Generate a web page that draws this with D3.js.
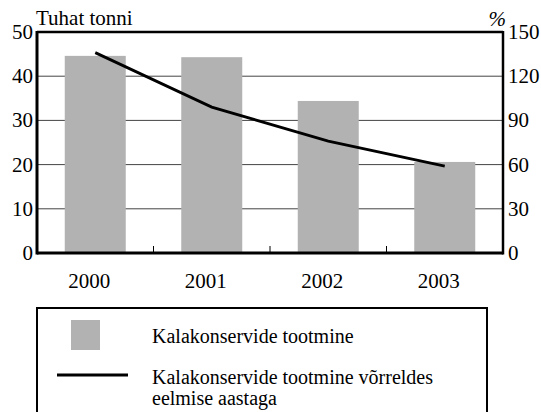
<!DOCTYPE html>
<html>
<head>
<meta charset="utf-8">
<script src="https://cdn.jsdelivr.net/npm/d3@7"></script>
</head>
<body style="margin:0">
<script>
// chart data
const years = ["2000", "2001", "2002", "2003"];
const production = [44.6, 44.3, 34.4, 20.6];      // thousand tonnes
const changePct = [136, 99, 76, 59];               // % vs previous year
const leftTicks = [0, 10, 20, 30, 40, 50];
const rightTicks = [0, 30, 60, 90, 120, 150];
const legendLabels = ["Kalakonservide tootmine", ["Kalakonservide tootmine võrreldes", "eelmise aastaga"]];

const width = 541, height = 412;
const margin = { left: 37, right: 38, top: 32, bottom: 159 };
const innerW = width - margin.left - margin.right;
const innerH = height - margin.top - margin.bottom;
const serif = '"Liberation Serif", monospace';

const svg = d3.select("body").append("svg")
  .attr("width", width)
  .attr("height", height);

const g = svg.append("g").attr("transform", `translate(${margin.left},${margin.top})`);

const xb = d3.scaleBand().domain(years).range([0, innerW]);
const yL = d3.scaleLinear().domain([0, 50]).range([innerH, 0]);
const yR = d3.scaleLinear().domain([0, 150]).range([innerH, 0]);

// gridlines
g.append("g")
  .selectAll("line")
  .data(leftTicks.filter(d => d > 0 && d < 50))
  .join("line")
  .attr("x1", 0).attr("x2", innerW)
  .attr("y1", d => yL(d)).attr("y2", d => yL(d))
  .attr("stroke", "#444").attr("stroke-width", 1);

// bars
g.append("g")
  .selectAll("rect")
  .data(years)
  .join("rect")
  .attr("x", d => xb(d) + (xb.bandwidth() - 61) / 2)
  .attr("width", 61)
  .attr("y", (d, i) => yL(production[i]))
  .attr("height", (d, i) => innerH - yL(production[i]))
  .attr("fill", "#b2b2b2");

// line
const line = d3.line()
  .x((d, i) => xb(years[i]) + xb.bandwidth() / 2)
  .y(d => yR(d));
g.append("path")
  .datum(changePct)
  .attr("d", line)
  .attr("fill", "none")
  .attr("stroke", "#000")
  .attr("stroke-width", 2.8);

// frame
g.append("line").attr("x1", 0).attr("x2", innerW).attr("y1", 0).attr("y2", 0)
  .attr("stroke", "#000").attr("stroke-width", 2.5);
g.append("line").attr("x1", 0).attr("x2", 0).attr("y1", -1).attr("y2", innerH + 1.5)
  .attr("stroke", "#000").attr("stroke-width", 3);
g.append("line").attr("x1", innerW).attr("x2", innerW).attr("y1", -1).attr("y2", innerH + 1.5)
  .attr("stroke", "#000").attr("stroke-width", 2.5);
g.append("line").attr("x1", 0).attr("x2", innerW).attr("y1", innerH).attr("y2", innerH)
  .attr("stroke", "#000").attr("stroke-width", 3);

// x category separators (ticks pointing up)
g.append("g")
  .selectAll("line")
  .data(years.slice(1))
  .join("line")
  .attr("x1", d => xb(d)).attr("x2", d => xb(d))
  .attr("y1", innerH).attr("y2", innerH - 7)
  .attr("stroke", "#000").attr("stroke-width", 1);

// left axis labels
g.append("g")
  .selectAll("text")
  .data(leftTicks)
  .join("text")
  .attr("x", -4)
  .attr("y", d => yL(d) + 7)
  .attr("text-anchor", "end")
  .attr("font-size", 21)
  .style("font-family", serif)
  .text(d => d);

// right axis labels
g.append("g")
  .selectAll("text")
  .data(rightTicks)
  .join("text")
  .attr("x", innerW + 5)
  .attr("y", d => yR(d) + 7)
  .attr("text-anchor", "start")
  .attr("font-size", 21)
  .style("font-family", serif)
  .text(d => d);

// x labels
g.append("g")
  .selectAll("text")
  .data(years)
  .join("text")
  .attr("x", d => xb(d) + xb.bandwidth() / 2 - 6)
  .attr("y", innerH + 35)
  .attr("text-anchor", "middle")
  .attr("font-size", 21)
  .style("font-family", serif)
  .text(d => d);

// axis titles
svg.append("text")
  .attr("x", 36).attr("y", 25)
  .attr("font-size", 21)
  .style("font-family", serif)
  .text("Tuhat tonni");
svg.append("text")
  .attr("x", 506).attr("y", 26)
  .attr("text-anchor", "end")
  .attr("font-size", 21)
  .attr("font-style", "italic")
  .style("font-family", serif)
  .text("%");

// legend
const lg = svg.append("g");
lg.append("rect")
  .attr("x", 37).attr("y", 308)
  .attr("width", 450).attr("height", 120)
  .attr("fill", "none")
  .attr("stroke", "#000").attr("stroke-width", 2);
lg.append("rect")
  .attr("x", 71).attr("y", 320)
  .attr("width", 29).attr("height", 30)
  .attr("fill", "#b2b2b2");
lg.append("text")
  .attr("x", 152).attr("y", 343)
  .attr("font-size", 20)
  .style("font-family", serif)
  .text(legendLabels[0]);
lg.append("line")
  .attr("x1", 57).attr("x2", 128)
  .attr("y1", 375).attr("y2", 375)
  .attr("stroke", "#000").attr("stroke-width", 2.8);
lg.append("text")
  .attr("font-size", 20)
  .style("font-family", serif)
  .selectAll("tspan")
  .data(legendLabels[1])
  .join("tspan")
  .attr("x", 152)
  .attr("y", (d, i) => 384 + i * 21)
  .text(d => d);
</script>
</body>
</html>
